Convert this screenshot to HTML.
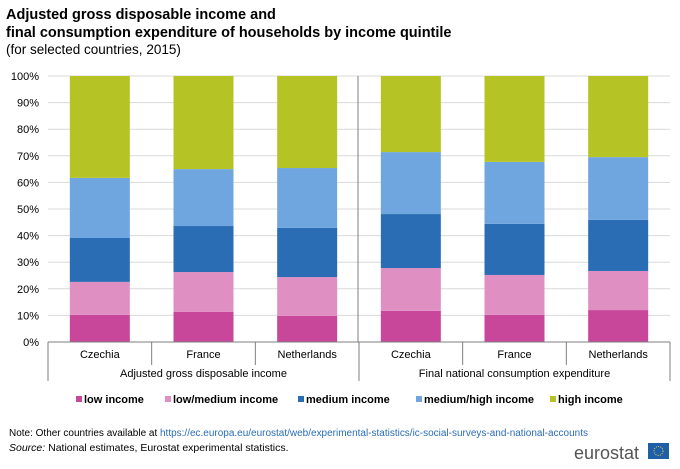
<!DOCTYPE html>
<html><head><meta charset="utf-8"><style>
body{margin:0;background:#fff;font-family:"Liberation Sans",Arial,sans-serif;}
svg text{font-family:"Liberation Sans",Arial,sans-serif;}
</style></head><body>
<svg id="c" width="680" height="464" xmlns="http://www.w3.org/2000/svg">
<text x="6" y="19" font-size="14.5" font-weight="bold" fill="#000">Adjusted gross disposable income and</text>
<text x="6" y="37" font-size="14.5" font-weight="bold" fill="#000">final consumption expenditure of households by income quintile</text>
<text x="6" y="54" font-size="13.5" fill="#000">(for selected countries, 2015)</text>
<g id="grid"></g><g id="bars"></g><g id="axis"></g><g id="legend"></g>
<text x="9" y="436" font-size="10" fill="#000" textLength="579" lengthAdjust="spacingAndGlyphs">Note: Other countries available at <tspan fill="#2a6db5">https://ec.europa.eu/eurostat/web/experimental-statistics/ic-social-surveys-and-national-accounts</tspan></text>
<text x="9" y="451" font-size="10.5" fill="#000"><tspan font-style="italic">Source:</tspan> National estimates, Eurostat experimental statistics.</text>
<g>
<text x="574" y="459" font-size="18" fill="#555">eurostat</text>
<rect x="648" y="443" width="21" height="16" fill="#1f5fa8"/>
<circle cx="658.5" cy="451" r="4.5" fill="none" stroke="#f5d33a" stroke-width="1" stroke-dasharray="1 1.3"/>
</g>
</svg>
<script>
const categories=["Czechia","France","Netherlands","Czechia","France","Netherlands"];
const groups=["Adjusted gross disposable income","Final national consumption expenditure"];
const seriesNames=["low income","low/medium income","medium income","medium/high income","high income"];
const lowIncome=[10.2,11.3,9.8,11.7,10.2,12.0];
const lowMedIncome=[12.4,15.0,14.6,16.1,15.0,14.7];
const mediumIncome=[16.5,17.3,18.5,20.3,19.2,19.2];
const medHighIncome=[22.6,21.4,22.5,23.3,23.3,23.6];
const highIncome=[38.3,35.0,34.6,28.6,32.3,30.5];
const yTicks=[0,10,20,30,40,50,60,70,80,90,100];
const colors=["#c8479a","#e08fc3","#2a6db5","#70a6e0","#b5c424"];
const NS="http://www.w3.org/2000/svg";
const x0=48,x1=670,yB=342,yT=76;
const y=v=>yB-(v/100)*(yB-yT);
const step=(x1-x0)/categories.length;
const xc=i=>x0+step*(i+0.5);
function mk(t,a,p){const e=document.createElementNS(NS,t);for(const k in a)e.setAttribute(k,a[k]);p.appendChild(e);return e;}
const grid=document.getElementById('grid'),bars=document.getElementById('bars'),axis=document.getElementById('axis'),legend=document.getElementById('legend');
yTicks.forEach(t=>{
 if(t>0){const l=mk('line',{x1:x0,x2:x1,y1:y(t),y2:y(t),stroke:'#d9d9d9','stroke-width':1},grid);
 
 }
 const tx=mk('text',{x:39,y:y(t)+4,'font-size':11,'text-anchor':'end',fill:'#000'},grid);tx.textContent=t+'%';
 
 
});
const series=[lowIncome,lowMedIncome,mediumIncome,medHighIncome,highIncome];
categories.forEach((c,i)=>{
 let acc=0;
 series.forEach((s,k)=>{
  const r=mk('rect',{x:xc(i)-30,width:60,y:y(acc+s[i]),height:y(acc)-y(acc+s[i]),fill:colors[k]},bars);
  
  
  acc+=s[i];
 });
 const t=mk('text',{x:xc(i),y:358,'font-size':11,'text-anchor':'middle',fill:'#000'},axis);t.textContent=c;
 
 
});
const sep=mk('line',{x1:358,x2:358,y1:yT,y2:yB,stroke:'#7f7f7f','stroke-width':1},axis);


const ax=mk('line',{x1:x0,x2:x1,y1:yB,y2:yB,stroke:'#7f7f7f','stroke-width':1},axis);


for(let i=0;i<=categories.length;i++){
 const big=(i%3===0);
 const l=mk('line',{x1:x0+step*i,x2:x0+step*i,y1:yB,y2:big?381:365,stroke:'#7f7f7f','stroke-width':1},axis);
 
 
}
groups.forEach((g,j)=>{
 const t=mk('text',{x:x0+step*(3*j+1.5),y:377,'font-size':11,'text-anchor':'middle',fill:'#000'},axis);t.textContent=g;
 
 
});
const lx=[76,165,298,416,550];
seriesNames.forEach((n,k)=>{
 const g=mk('g',{},legend);
 
 
 mk('rect',{x:lx[k],y:396,width:6,height:6,fill:colors[k]},g);
 const t=mk('text',{x:lx[k]+8,y:403,'font-size':11,'font-weight':'bold',fill:'#000'},g);t.textContent=n;
});
</script>
</body></html>
